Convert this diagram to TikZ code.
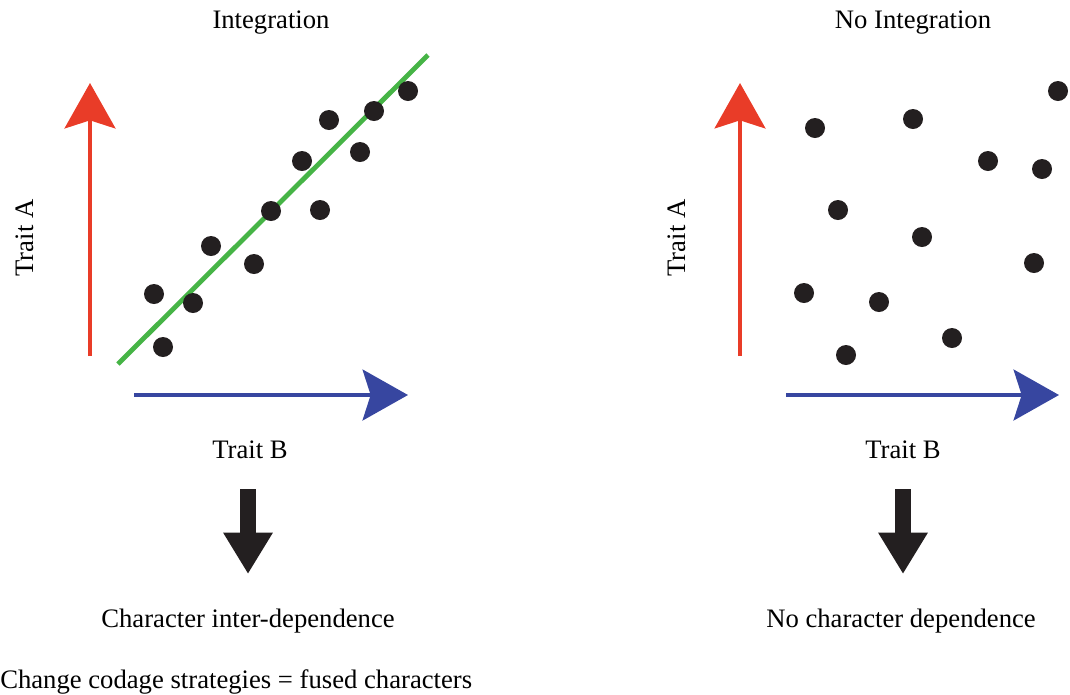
\documentclass[tikz,border=0pt]{standalone}
\usepackage{fontspec}
\setmainfont{Liberation Serif}
\usetikzlibrary{arrows.meta}

\definecolor{axisred}{RGB}{233,60,40}
\definecolor{axisblue}{RGB}{55,70,160}
\definecolor{fitgreen}{RGB}{70,180,70}
\definecolor{dotblack}{RGB}{35,31,32}

\tikzset{
  dot/.style={circle,fill=dotblack,inner sep=0pt,minimum size=15pt},
  lbl/.style={font=\fontsize{20}{24}\selectfont},
  axis/.style={line width=3.6pt,-{Stealth[length=34pt,width=38pt,inset=6pt]}},
  bigarrow/.style={line width=12pt,draw=dotblack,-{Triangle[length=31pt,width=35pt,fill=dotblack]}}
}

\begin{document}
\begin{tikzpicture}[x=0.75pt,y=0.75pt,yscale=-1,xscale=1]
\useasboundingbox (0,0) rectangle (1070,694);

% Text Node
\node[lbl] (tleft) at (271,23) {Integration};
% Text Node
\node[lbl] (tright) at (913,23) {No Integration};

%Straight Lines (left axes)
\coordinate (ay1) at (90,356);
\coordinate (ay2) at (90,83);
\coordinate (ax1) at (134,395);
\coordinate (ax2) at (408,395);
\draw[axis,axisred] (ay1) -- (ay2);
\draw[axis,axisblue] (ax1) -- (ax2);

%Straight Lines (right axes)
\coordinate (by1) at (740,356);
\coordinate (by2) at (740,83);
\coordinate (bx1) at (786,395);
\coordinate (bx2) at (1059,395);
\draw[axis,axisred] (by1) -- (by2);
\draw[axis,axisblue] (bx1) -- (bx2);

% fitted line
\coordinate (g1) at (118,364);
\coordinate (g2) at (428,55);
\draw[fitgreen,line width=3.6pt] (g1) -- (g2);

% dots, correlated
\foreach \x/\y [count=\i] in {154/294,163/347,193/303,211/246,254/264,271/211,
    320/210,302/161,329/120,360/152,374/111,408/91}
  \node[dot] (p\i) at (\x,\y) {};

% dots, scattered
\foreach \x/\y [count=\i] in {815/128,913/119,1058/91,988/161,1042/169,838/210,
    922/237,1034/263,804/293,879/302,952/338,846/355}
  \node[dot] (q\i) at (\x,\y) {};

% Text Node
\node[lbl,rotate=90] (yleft) at (25,238) {Trait A};
\node[lbl,rotate=90] (yright) at (677,238) {Trait A};
\node[lbl] (xleft) at (250,450) {Trait B};
\node[lbl] (xright) at (903,450) {Trait B};

% down arrows
\node[lbl] (cleft) at (248,621) {Character inter-dependence};
\node[lbl] (cright) at (901,621) {No character dependence};
\coordinate (dl) at (248,489);
\coordinate (dr) at (903,489);
\draw[bigarrow] (dl) -- (dl |- 0,574);
\draw[bigarrow] (dr) -- (dr |- 0,574);

% Text Node
\node[lbl,anchor=west,inner sep=0pt] (note) at (0,682) {Change codage strategies = fused characters};

\end{tikzpicture}
\end{document}
